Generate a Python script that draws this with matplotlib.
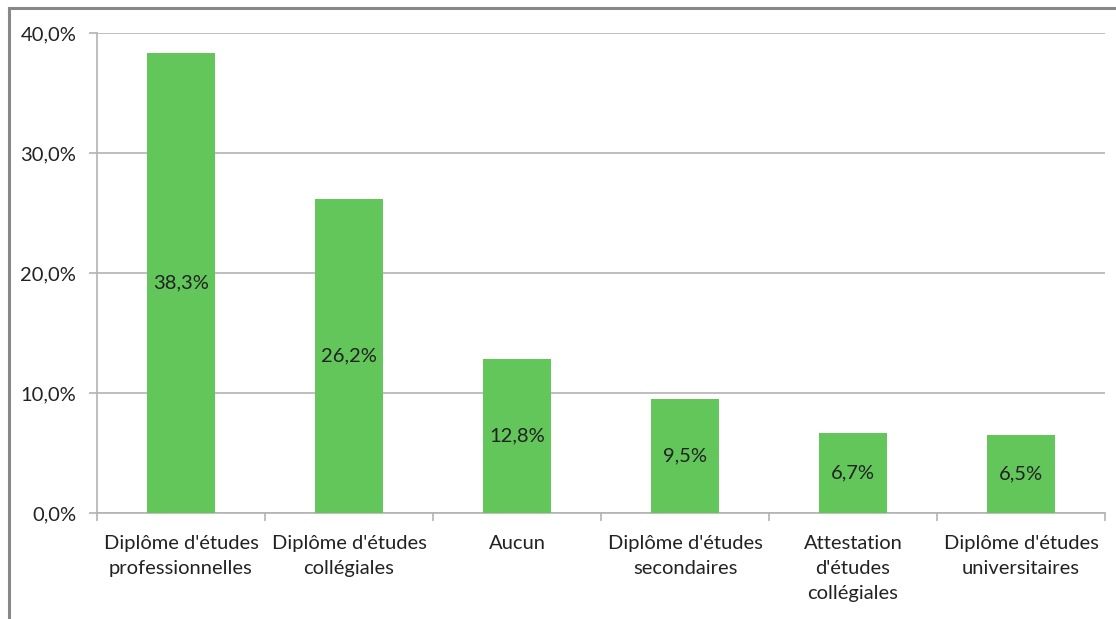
import matplotlib
matplotlib.use('Agg')
import matplotlib.pyplot as plt
from matplotlib.lines import Line2D
import numpy as np

categories = [
    "Diplôme d'études\nprofessionnelles",
    "Diplôme d'études\ncollégiales",
    "Aucun",
    "Diplôme d'études\nsecondaires",
    "Attestation\nd'études\ncollégiales",
    "Diplôme d'études\nuniversitaires",
]
values = [38.3, 26.2, 12.8, 9.5, 6.7, 6.5]
y_ticks = [0, 10, 20, 30, 40]

plt.rcParams['font.family'] = ['Lato', 'DejaVu Sans']

BAR_COLOR = '#62C65A'
GRID_COLOR = '#B3B3B3'
TEXT_COLOR = '#222222'
FS = 14.5

fig = plt.figure(figsize=(11.16, 6.19), dpi=100)
ax = fig.add_axes([97 / 1116, 1 - 513 / 619, (1105 - 97) / 1116, (513 - 33) / 619])

x = np.arange(len(categories))
ax.bar(x, values, width=0.40, color=BAR_COLOR, zorder=3)

for xi, v in zip(x, values):
    ax.text(xi, v / 2, f"{v:.1f}%".replace('.', ','), ha='center', va='center',
            fontsize=FS, color=TEXT_COLOR, zorder=4)

ax.set_xlim(-0.5, len(categories) - 0.5)
ax.set_ylim(0, 40)
ax.set_yticks(y_ticks)
ax.set_yticklabels([f"{t:.1f}%".replace('.', ',') for t in y_ticks])
ax.yaxis.grid(True, color=GRID_COLOR, linewidth=1.2, zorder=0)

ax.set_xticks(np.arange(len(categories) + 1) - 0.5)
ax.set_xticklabels([])
ax.set_xticks(x, minor=True)
ax.set_xticklabels(categories, minor=True, fontsize=FS, color=TEXT_COLOR,
                   linespacing=1.55)
ax.tick_params(axis='x', which='minor', length=0, pad=16)
ax.tick_params(axis='x', which='major', length=6, color=GRID_COLOR, width=1.2)
ax.tick_params(axis='y', length=6, color=GRID_COLOR, width=1.2,
               labelsize=FS, labelcolor=TEXT_COLOR, pad=9)

for side in ['top', 'right']:
    ax.spines[side].set_visible(False)
for side in ['left', 'bottom']:
    ax.spines[side].set_color(GRID_COLOR)
    ax.spines[side].set_linewidth(1.2)

# outer chart border (top and left edges only visible in the crop)
fig.add_artist(Line2D([8.5 / 1116, 1], [1 - 7.5 / 619, 1 - 7.5 / 619],
                      transform=fig.transFigure, color='#888888', linewidth=2.2))
fig.add_artist(Line2D([8.5 / 1116, 8.5 / 1116], [0, 1 - 7.5 / 619],
                      transform=fig.transFigure, color='#888888', linewidth=2.2))

fig.savefig('out.png', dpi=100)
plt.close()
